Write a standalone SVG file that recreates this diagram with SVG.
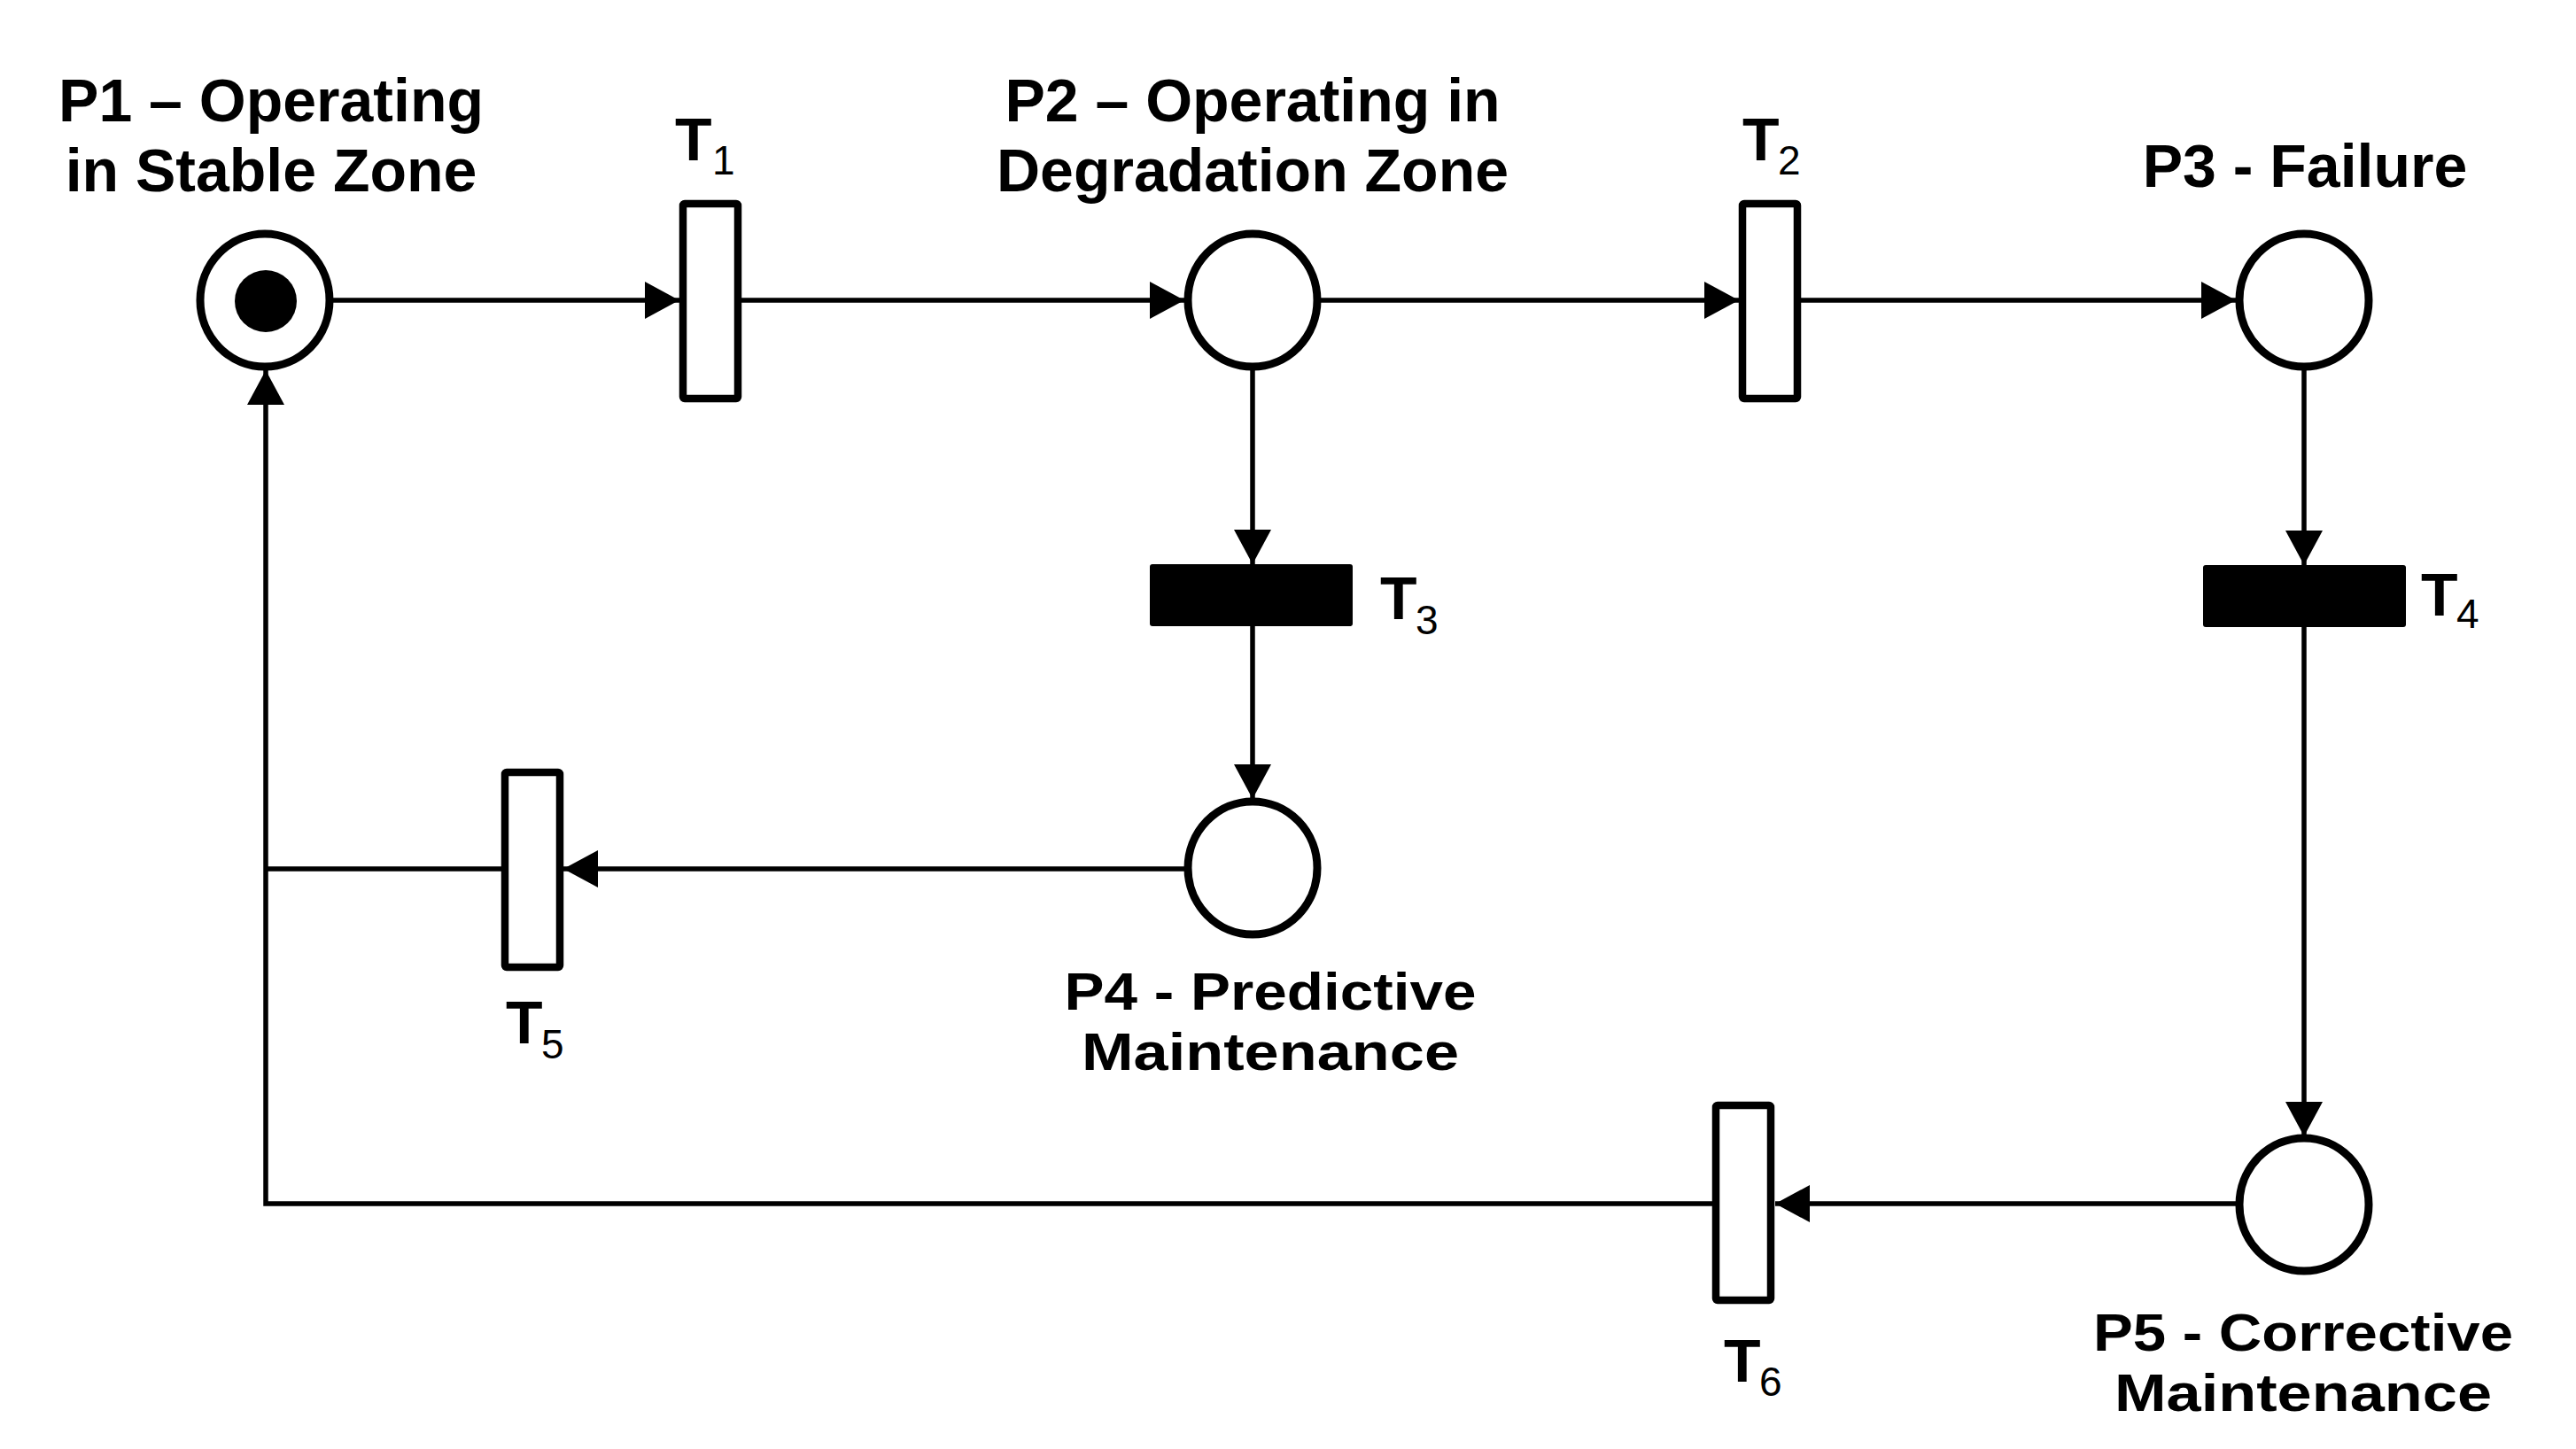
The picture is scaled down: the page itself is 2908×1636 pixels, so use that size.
<svg xmlns="http://www.w3.org/2000/svg" width="2908" height="1636" viewBox="0 0 2908 1636">
<style>
.place{fill:#fff;stroke:#000;stroke-width:9}
.trans{fill:#fff;stroke:#000;stroke-width:8.5}
.transf{fill:#000;stroke:none}
.arc{fill:none;stroke:#000;stroke-width:5.5}
.lbl{font-family:"Liberation Sans",Arial,sans-serif;font-weight:bold;font-size:68px;fill:#000}
.lbs{font-family:"Liberation Sans",Arial,sans-serif;font-weight:bold;font-size:60px;fill:#000}
.tl{font-family:"Liberation Sans",Arial,sans-serif;font-weight:bold;font-size:68px;fill:#000}
.sub{font-family:"Liberation Sans",Arial,sans-serif;font-weight:normal;font-size:46px;fill:#000}
</style>
<defs>
<marker id="ah" viewBox="0 0 39 42" refX="39" refY="21" markerWidth="39" markerHeight="42" markerUnits="userSpaceOnUse" orient="auto">
<path d="M0,0 L39,21 L0,42 z" fill="#000"/>
</marker>
</defs>
<rect width="2908" height="1636" fill="#fff"/>
<g id="connectors">
<line class="arc" x1="376" y1="339" x2="767" y2="339" marker-end="url(#ah)"/>
<line class="arc" x1="837" y1="339" x2="1337" y2="339" marker-end="url(#ah)"/>
<line class="arc" x1="1491" y1="339" x2="1963" y2="339" marker-end="url(#ah)"/>
<line class="arc" x1="2033" y1="339" x2="2524" y2="339" marker-end="url(#ah)"/>
<line class="arc" x1="1414" y1="418" x2="1414" y2="637" marker-end="url(#ah)"/>
<line class="arc" x1="1414" y1="707" x2="1414" y2="902" marker-end="url(#ah)"/>
<line class="arc" x1="2601" y1="418" x2="2601" y2="638" marker-end="url(#ah)"/>
<line class="arc" x1="2601" y1="708" x2="2601" y2="1283" marker-end="url(#ah)"/>
<line class="arc" x1="1337" y1="981" x2="636" y2="981" marker-end="url(#ah)"/>
<line class="arc" x1="2524" y1="1359" x2="2004" y2="1359" marker-end="url(#ah)"/>
<line class="arc" x1="566" y1="981" x2="300" y2="981"/>
<path class="arc" d="M1933,1359 H300 V418" marker-end="url(#ah)"/>
</g>
<g id="P1">
<ellipse class="place" cx="299" cy="339" rx="73" ry="75"/>
<circle cx="300" cy="340" r="35" fill="#000"/>
<text class="lbl" x="306" y="137" text-anchor="middle">P1 – Operating</text>
<text class="lbl" x="306" y="216" text-anchor="middle">in Stable Zone</text>
</g>
<g id="P2">
<ellipse class="place" cx="1414" cy="339" rx="73" ry="75"/>
<text class="lbl" x="1414" y="137" text-anchor="middle">P2 – Operating in</text>
<text class="lbl" x="1414" y="216" text-anchor="middle">Degradation Zone</text>
</g>
<g id="P3">
<ellipse class="place" cx="2601" cy="339" rx="73" ry="75"/>
<text class="lbl" x="2602" y="211" text-anchor="middle">P3 - Failure</text>
</g>
<g id="P4">
<ellipse class="place" cx="1414" cy="980" rx="73" ry="75"/>
<text class="lbs" x="1434" y="1140" text-anchor="middle" textLength="465" lengthAdjust="spacingAndGlyphs">P4 - Predictive</text>
<text class="lbs" x="1434" y="1208" text-anchor="middle" textLength="426" lengthAdjust="spacingAndGlyphs">Maintenance</text>
</g>
<g id="P5">
<ellipse class="place" cx="2601" cy="1360" rx="73" ry="75"/>
<text class="lbs" x="2600" y="1525" text-anchor="middle" textLength="474" lengthAdjust="spacingAndGlyphs">P5 - Corrective</text>
<text class="lbs" x="2600" y="1593" text-anchor="middle" textLength="426" lengthAdjust="spacingAndGlyphs">Maintenance</text>
</g>
<g id="T1">
<rect class="trans" x="771" y="230" width="62" height="220" rx="2"/>
<text class="tl" x="762" y="181">T</text><text class="sub" x="804" y="197">1</text>
</g>
<g id="T2">
<rect class="trans" x="1967" y="230" width="62" height="220" rx="2"/>
<text class="tl" x="1967" y="181">T</text><text class="sub" x="2007" y="197">2</text>
</g>
<g id="T3">
<rect class="transf" x="1298" y="637" width="229" height="70" rx="3"/>
<text class="tl" x="1558" y="699">T</text><text class="sub" x="1598" y="716">3</text>
</g>
<g id="T4">
<rect class="transf" x="2487" y="638" width="229" height="70" rx="3"/>
<text class="tl" x="2733" y="695">T</text><text class="sub" x="2773" y="709">4</text>
</g>
<g id="T5">
<rect class="trans" x="570" y="872" width="62" height="220" rx="2"/>
<text class="tl" x="571" y="1178">T</text><text class="sub" x="611" y="1195">5</text>
</g>
<g id="T6">
<rect class="trans" x="1937" y="1248" width="62" height="220" rx="2"/>
<text class="tl" x="1946" y="1560">T</text><text class="sub" x="1986" y="1576">6</text>
</g>
</svg>
